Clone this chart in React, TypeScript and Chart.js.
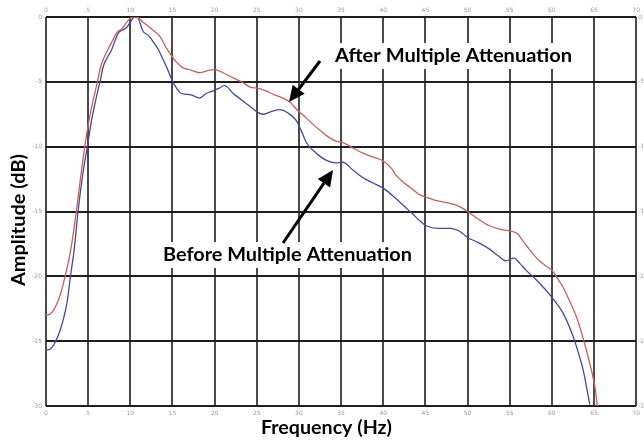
import React, { useEffect, useRef } from "react";
import { Chart, registerables } from "chart.js";

Chart.register(...registerables);

// Frequency (Hz) axis ticks and amplitude (dB) axis ticks
const xTicks = [0, 5, 10, 15, 20, 25, 30, 35, 40, 45, 50, 55, 60, 65, 70];
const yTicks = [0, -5, -10, -15, -20, -25, -30];

// After Multiple Attenuation (red)
const freqAfter = [0, 0.5, 0.9, 1.3, 1.7, 2.0, 2.3, 2.65, 3.05, 3.55, 4.1, 4.6, 5.1, 5.6, 6.1, 6.5, 6.9, 7.35, 7.9, 8.4, 9.1, 9.7, 10.3, 10.8, 11.5, 12.5, 13.5, 14.2, 14.9, 15.5, 16.2, 17.2, 18.2, 19.4, 20.0, 21.0, 22.2, 23.2, 24.2, 25.2, 26.1, 27.1, 28.1, 29.0, 29.7, 30.9, 31.7, 32.6, 33.6, 34.5, 35.3, 36.4, 37.6, 38.8, 40.0, 41.0, 41.5, 42.5, 43.5, 44.3, 45.1, 46.0, 47.4, 49.0, 50.0, 51.3, 52.6, 54.0, 55.0, 55.9, 56.6, 57.3, 58.5, 59.3, 60.1, 60.6, 61.3, 62.1, 62.9, 63.5, 64.1, 64.6, 65.1, 65.4];
const ampAfter = [-23.0, -22.9, -22.6, -22.1, -21.4, -20.7, -19.9, -18.9, -17.5, -15.2, -12.4, -10.0, -8.0, -6.4, -5.0, -3.8, -3.1, -2.5, -1.8, -1.2, -0.85, -0.3, 0, 0, -0.4, -0.9, -1.5, -2.3, -3.0, -3.5, -3.9, -4.1, -4.3, -4.1, -4.06, -4.3, -4.7, -5.0, -5.4, -5.5, -5.7, -6.0, -6.25, -6.6, -7.1, -7.8, -8.3, -8.8, -9.3, -9.6, -9.7, -10.1, -10.5, -10.8, -11.1, -11.7, -12.2, -12.8, -13.3, -13.7, -13.9, -14.1, -14.3, -14.6, -15.0, -15.6, -16.1, -16.4, -16.5, -16.7, -17.3, -17.9, -18.8, -19.2, -19.6, -20.1, -20.8, -21.9, -23.1, -24.3, -25.7, -27.0, -28.5, -30.0];

// Before Multiple Attenuation (blue)
const freqBefore = [0, 0.5, 0.9, 1.3, 1.7, 2.1, 2.5, 2.9, 3.35, 3.8, 4.3, 4.9, 5.4, 5.9, 6.4, 6.8, 7.3, 7.8, 8.2, 8.6, 9.1, 9.5, 10.0, 10.5, 10.8, 11.5, 12.1, 12.7, 13.4, 13.9, 14.4, 14.9, 15.5, 16.1, 17.2, 18.2, 19.0, 19.8, 20.5, 21.2, 22.2, 23.2, 24.2, 25.0, 25.7, 26.7, 27.7, 28.7, 29.7, 30.3, 30.9, 31.7, 32.5, 33.4, 34.4, 35.2, 36.4, 37.6, 38.8, 40.0, 41.5, 42.5, 43.5, 44.3, 45.1, 46.5, 48.0, 49.0, 50.0, 51.3, 52.6, 53.6, 54.5, 55.5, 56.2, 56.9, 58.2, 59.2, 60.1, 61.3, 62.5, 63.1, 63.7, 64.1, 64.5];
const ampBefore = [-25.7, -25.6, -25.3, -24.8, -24.1, -23.2, -22.0, -20.0, -17.9, -15.0, -12.4, -10.0, -8.0, -6.4, -5.0, -3.8, -3.1, -2.5, -1.8, -1.2, -1.0, -0.85, -0.4, 0, 0, -1.1, -1.4, -1.9, -2.6, -3.3, -4.0, -4.8, -5.5, -5.9, -6.0, -6.25, -5.9, -5.7, -5.5, -5.3, -5.9, -6.4, -6.9, -7.3, -7.5, -7.3, -7.15, -7.4, -8.0, -8.8, -9.7, -10.3, -10.75, -11.1, -11.25, -11.2, -11.8, -12.4, -12.8, -13.2, -14.0, -14.6, -15.2, -15.7, -16.1, -16.3, -16.3, -16.5, -17.0, -17.4, -17.9, -18.4, -18.8, -18.6, -19.0, -19.5, -20.3, -21.0, -21.7, -22.8, -24.6, -25.8, -27.2, -28.5, -29.9];

const xTitle = "Frequency (Hz)";
const yTitle = "Amplitude (dB)";
const labelAfter = "After Multiple Attenuation";
const labelBefore = "Before Multiple Attenuation";

const FONT = "Lato, 'Open Sans', sans-serif";

function fitText(ctx: CanvasRenderingContext2D, text: string, x: number, y: number, w: number, size: number, bg: boolean) {
  ctx.save();
  ctx.font = `bold ${size}px ${FONT}`;
  const m = ctx.measureText(text).width;
  const s = w / m;
  if (bg) {
    ctx.fillStyle = "#ffffff";
    ctx.fillRect(x - 4, y - size - 1, w + 8, size + 8);
  }
  ctx.translate(x, y);
  ctx.scale(s, 1);
  ctx.fillStyle = "#000000";
  ctx.textBaseline = "alphabetic";
  ctx.textAlign = "left";
  ctx.fillText(text, 0, 0);
  ctx.restore();
}

function arrow(ctx: CanvasRenderingContext2D, x1: number, y1: number, x2: number, y2: number) {
  const ang = Math.atan2(y2 - y1, x2 - x1);
  const hl = 16, hw = 7.5;
  const bx = x2 - hl * Math.cos(ang), by = y2 - hl * Math.sin(ang);
  ctx.save();
  ctx.strokeStyle = "#000";
  ctx.fillStyle = "#000";
  ctx.lineWidth = 3;
  ctx.beginPath();
  ctx.moveTo(x1, y1);
  ctx.lineTo(bx, by);
  ctx.stroke();
  ctx.beginPath();
  ctx.moveTo(x2, y2);
  ctx.lineTo(bx + hw * Math.sin(ang), by - hw * Math.cos(ang));
  ctx.lineTo(bx - hw * Math.sin(ang), by + hw * Math.cos(ang));
  ctx.closePath();
  ctx.fill();
  ctx.restore();
}

const overlay = {
  id: "overlay",
  afterDraw(chart: any) {
    const ctx = chart.ctx as CanvasRenderingContext2D;
    fitText(ctx, labelAfter, 335, 62, 237, 18, true);
    fitText(ctx, labelBefore, 163, 261, 249, 18, true);
    arrow(ctx, 320, 61, 289, 102);
    arrow(ctx, 283, 243, 333, 170);
    fitText(ctx, xTitle, 261, 434, 131, 18, true);
    ctx.save();
    ctx.translate(25, 286);
    ctx.rotate(-Math.PI / 2);
    fitText(ctx, yTitle, 0, 0, 132, 18, false);
    ctx.restore();
  },
};

export default function App() {
  const ref = useRef<HTMLCanvasElement>(null);
  useEffect(() => {
    document.body.style.margin = "0";
    const tickFont = { family: "'DejaVu Sans', sans-serif", size: 6 };
    const tickColor = "#9a9a9a";
    const xt = {
      autoSkip: false,
      font: tickFont,
      color: tickColor,
      stepSize: 5,
    };
    const chart = new Chart(ref.current!, {
      type: "scatter",
      data: {
        datasets: [
          {
            label: labelAfter,
            data: freqAfter.map((f, i) => ({ x: f, y: ampAfter[i] })),
            showLine: true,
            borderColor: "#c8605c",
            borderWidth: 1.3,
            pointRadius: 0,
            cubicInterpolationMode: "monotone",
          },
          {
            label: labelBefore,
            data: freqBefore.map((f, i) => ({ x: f, y: ampBefore[i] })),
            showLine: true,
            borderColor: "#46489a",
            borderWidth: 1.3,
            pointRadius: 0,
            cubicInterpolationMode: "monotone",
          },
        ],
      },
      options: {
        animation: false,
        responsive: false,
        maintainAspectRatio: false,
        layout: { padding: 0 },
        plugins: { legend: { display: false }, tooltip: { enabled: false } },
        scales: {
          x: {
            type: "linear",
            position: "bottom",
            min: 0,
            max: 70,
            afterBuildTicks: (s: any) => { s.ticks = xTicks.map((v) => ({ value: v })); },
            afterFit: (s: any) => { s.height = 37; },
            ticks: { ...xt, padding: 4 },
            grid: { color: "#4a4a4a", lineWidth: 2, drawTicks: false },
            border: { display: false },
          },
          x2: {
            type: "linear",
            position: "top",
            min: 0,
            max: 70,
            afterBuildTicks: (s: any) => { s.ticks = xTicks.map((v) => ({ value: v })); },
            afterFit: (s: any) => { s.height = 17; },
            ticks: { ...xt, padding: 3 },
            grid: { display: false, drawTicks: false },
            border: { display: false },
          },
          y: {
            type: "linear",
            position: "left",
            min: -30,
            max: 0,
            afterBuildTicks: (s: any) => { s.ticks = yTicks.map((v) => ({ value: v })); },
            afterFit: (s: any) => { s.width = 46; },
            ticks: { ...xt, padding: 4 },
            grid: { color: "#1e1e1e", lineWidth: 2, drawTicks: false },
            border: { display: false },
          },
          y2: {
            type: "linear",
            position: "right",
            min: -30,
            max: 0,
            afterBuildTicks: (s: any) => { s.ticks = yTicks.map((v) => ({ value: v })); },
            afterFit: (s: any) => { s.width = 7; },
            ticks: { ...xt, padding: 2 },
            grid: { display: false, drawTicks: false },
            border: { display: false },
          },
        },
      },
      plugins: [overlay],
    } as any);
    return () => chart.destroy();
  }, []);
  return (
    <div style={{ position: "absolute", left: 0, top: 0, width: 644, height: 443, background: "#fff" }}>
      <canvas ref={ref} width={644} height={443} style={{ width: 644, height: 443, display: "block" }} />
    </div>
  );
}
